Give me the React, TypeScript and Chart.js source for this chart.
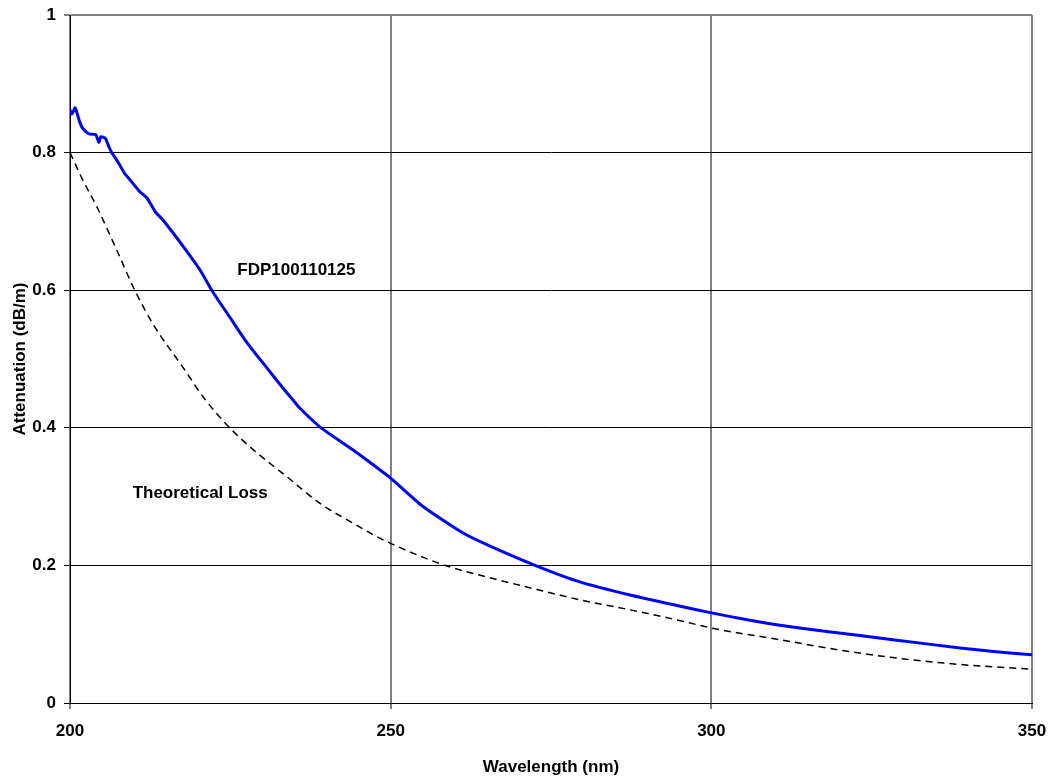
import React, { useEffect, useRef } from "react";
import { Chart, registerables } from "chart.js";

Chart.register(...registerables);

const measuredWavelength = [
  200, 200.3, 200.8, 201.5, 202, 203, 204, 204.5, 204.8, 205.5, 206, 206.5, 207.5, 208.5,
  209.4, 210.9, 212, 213.3, 214.5, 217.7, 220.3, 222.1, 224.9, 227.5, 230.7, 233,
  234.8, 235.9, 239, 244.1, 248.3, 250, 255, 261.3, 265.5, 272.8, 279.5, 287.3, 295, 300,
  305.6, 310.7, 318, 328.3, 338.8, 344, 350,
];
const measuredLoss = [
  0.862, 0.856, 0.865, 0.845, 0.835, 0.827, 0.826, 0.815, 0.823, 0.821, 0.81, 0.8, 0.786, 0.77,
  0.76, 0.743, 0.734, 0.714, 0.702, 0.663, 0.629, 0.6, 0.561, 0.525, 0.487, 0.46,
  0.44, 0.428, 0.401, 0.368, 0.339, 0.327, 0.286, 0.247, 0.228, 0.199, 0.176, 0.157, 0.141, 0.131,
  0.121, 0.113, 0.104, 0.092, 0.08, 0.075, 0.07,
];

const theoryWavelength = [
  200, 202, 204.2, 207.3, 210.1, 213, 217.9, 221, 224.9, 228.6, 233.8, 239, 244.2, 247.8, 250,
  255, 258.8, 265.5, 272.8, 279.5, 287, 295, 300, 310.7, 320, 328.3, 338.8, 350,
];
const theoryLoss = [
  0.8, 0.76, 0.721, 0.658, 0.6, 0.55, 0.484, 0.442, 0.4, 0.368, 0.329, 0.29, 0.261, 0.242, 0.232,
  0.212, 0.199, 0.182, 0.165, 0.15, 0.136, 0.12, 0.109, 0.092, 0.077, 0.066, 0.056, 0.049,
];

const xTicks = [200, 250, 300, 350];
const yTicks = [0, 0.2, 0.4, 0.6, 0.8, 1];

const seriesLabels = ["FDP100110125", "Theoretical Loss"];
const labelAnchors = [
  { x: 235.3, y: 0.629 },
  { x: 220.3, y: 0.305 },
];

const FONT = "'Liberation Sans', Arial, sans-serif";

const textPlugin = {
  id: "seriesText",
  afterDatasetsDraw(chart: any) {
    const { ctx, scales } = chart;
    ctx.save();
    ctx.font = `bold 17px ${FONT}`;
    ctx.fillStyle = "#000";
    ctx.textAlign = "center";
    ctx.textBaseline = "middle";
    seriesLabels.forEach((t, i) => {
      const a = labelAnchors[i];
      ctx.fillText(t, scales.x.getPixelForValue(a.x), scales.y.getPixelForValue(a.y));
    });
    ctx.restore();
  },
};

export default function App() {
  const ref = useRef<HTMLCanvasElement | null>(null);
  useEffect(() => {
    if (!ref.current) return;
    const chart = new Chart(ref.current, {
      type: "line",
      data: {
        datasets: [
          {
            label: seriesLabels[0],
            data: measuredWavelength.map((x, i) => ({ x, y: measuredLoss[i] })),
            borderColor: "#0000FF",
            borderWidth: 3,
            pointRadius: 0,
            tension: 0.2,
            fill: false,
          },
          {
            label: seriesLabels[1],
            data: theoryWavelength.map((x, i) => ({ x, y: theoryLoss[i] })),
            borderColor: "#000000",
            borderWidth: 1.5,
            borderDash: [7, 5],
            pointRadius: 0,
            cubicInterpolationMode: "monotone",
            fill: false,
          },
        ],
      },
      options: {
        responsive: false,
        animation: false,
        layout: { padding: { top: 15, right: 20, left: 0, bottom: 0 } },
        plugins: { legend: { display: false }, tooltip: { enabled: false } },
        scales: {
          x: {
            type: "linear",
            min: 200,
            max: 350,
            afterFit: (s: any) => {
              s.height = 75;
              s.paddingLeft = 0;
              s.paddingRight = 0;
            },
            afterBuildTicks: (s: any) => {
              s.ticks = xTicks.map((v) => ({ value: v }));
            },
            ticks: {
              color: "#000",
              font: { family: FONT, size: 17, weight: "bold" },
              padding: 12,
              maxRotation: 0,
            },
            grid: {
              color: "#808080",
              lineWidth: 2,
              tickColor: "#000",
              tickLength: 6,
              tickWidth: 1,
            },
            border: { color: "#000", width: 1 },
            title: {
              display: true,
              text: "Wavelength (nm)",
              color: "#000",
              font: { family: FONT, size: 17, weight: "bold" },
              padding: { top: 0, bottom: 0 },
            },
          },
          y: {
            type: "linear",
            min: 0,
            max: 1,
            afterFit: (s: any) => {
              s.width = 70;
              s.paddingTop = 0;
              s.paddingBottom = 0;
            },
            afterBuildTicks: (s: any) => {
              s.ticks = yTicks.map((v) => ({ value: v }));
            },
            ticks: {
              color: "#000",
              font: { family: FONT, size: 17, weight: "bold" },
              padding: 8,
              callback: (v: any) => String(Number(v)),
            },
            grid: {
              color: (c: any) => (c.tick && c.tick.value === 1 ? "#808080" : "#000"),
              lineWidth: (c: any) => (c.tick && c.tick.value === 1 ? 2 : 1),
              tickColor: "#000",
              tickLength: 6,
              tickWidth: 1,
            },
            border: { color: "#000", width: 1 },
            title: {
              display: true,
              text: "Attenuation (dB/m)",
              color: "#000",
              font: { family: FONT, size: 17, weight: "bold" },
              padding: { top: 10, bottom: 0 },
            },
          },
        },
      },
      plugins: [textPlugin],
    });
    return () => chart.destroy();
  }, []);
  return (
    <div style={{ position: "absolute", left: 0, top: 0, width: 1052, height: 778, background: "#fff" }}>
      <canvas ref={ref} width={1052} height={778} style={{ width: 1052, height: 778, display: "block" }} />
    </div>
  );
}
